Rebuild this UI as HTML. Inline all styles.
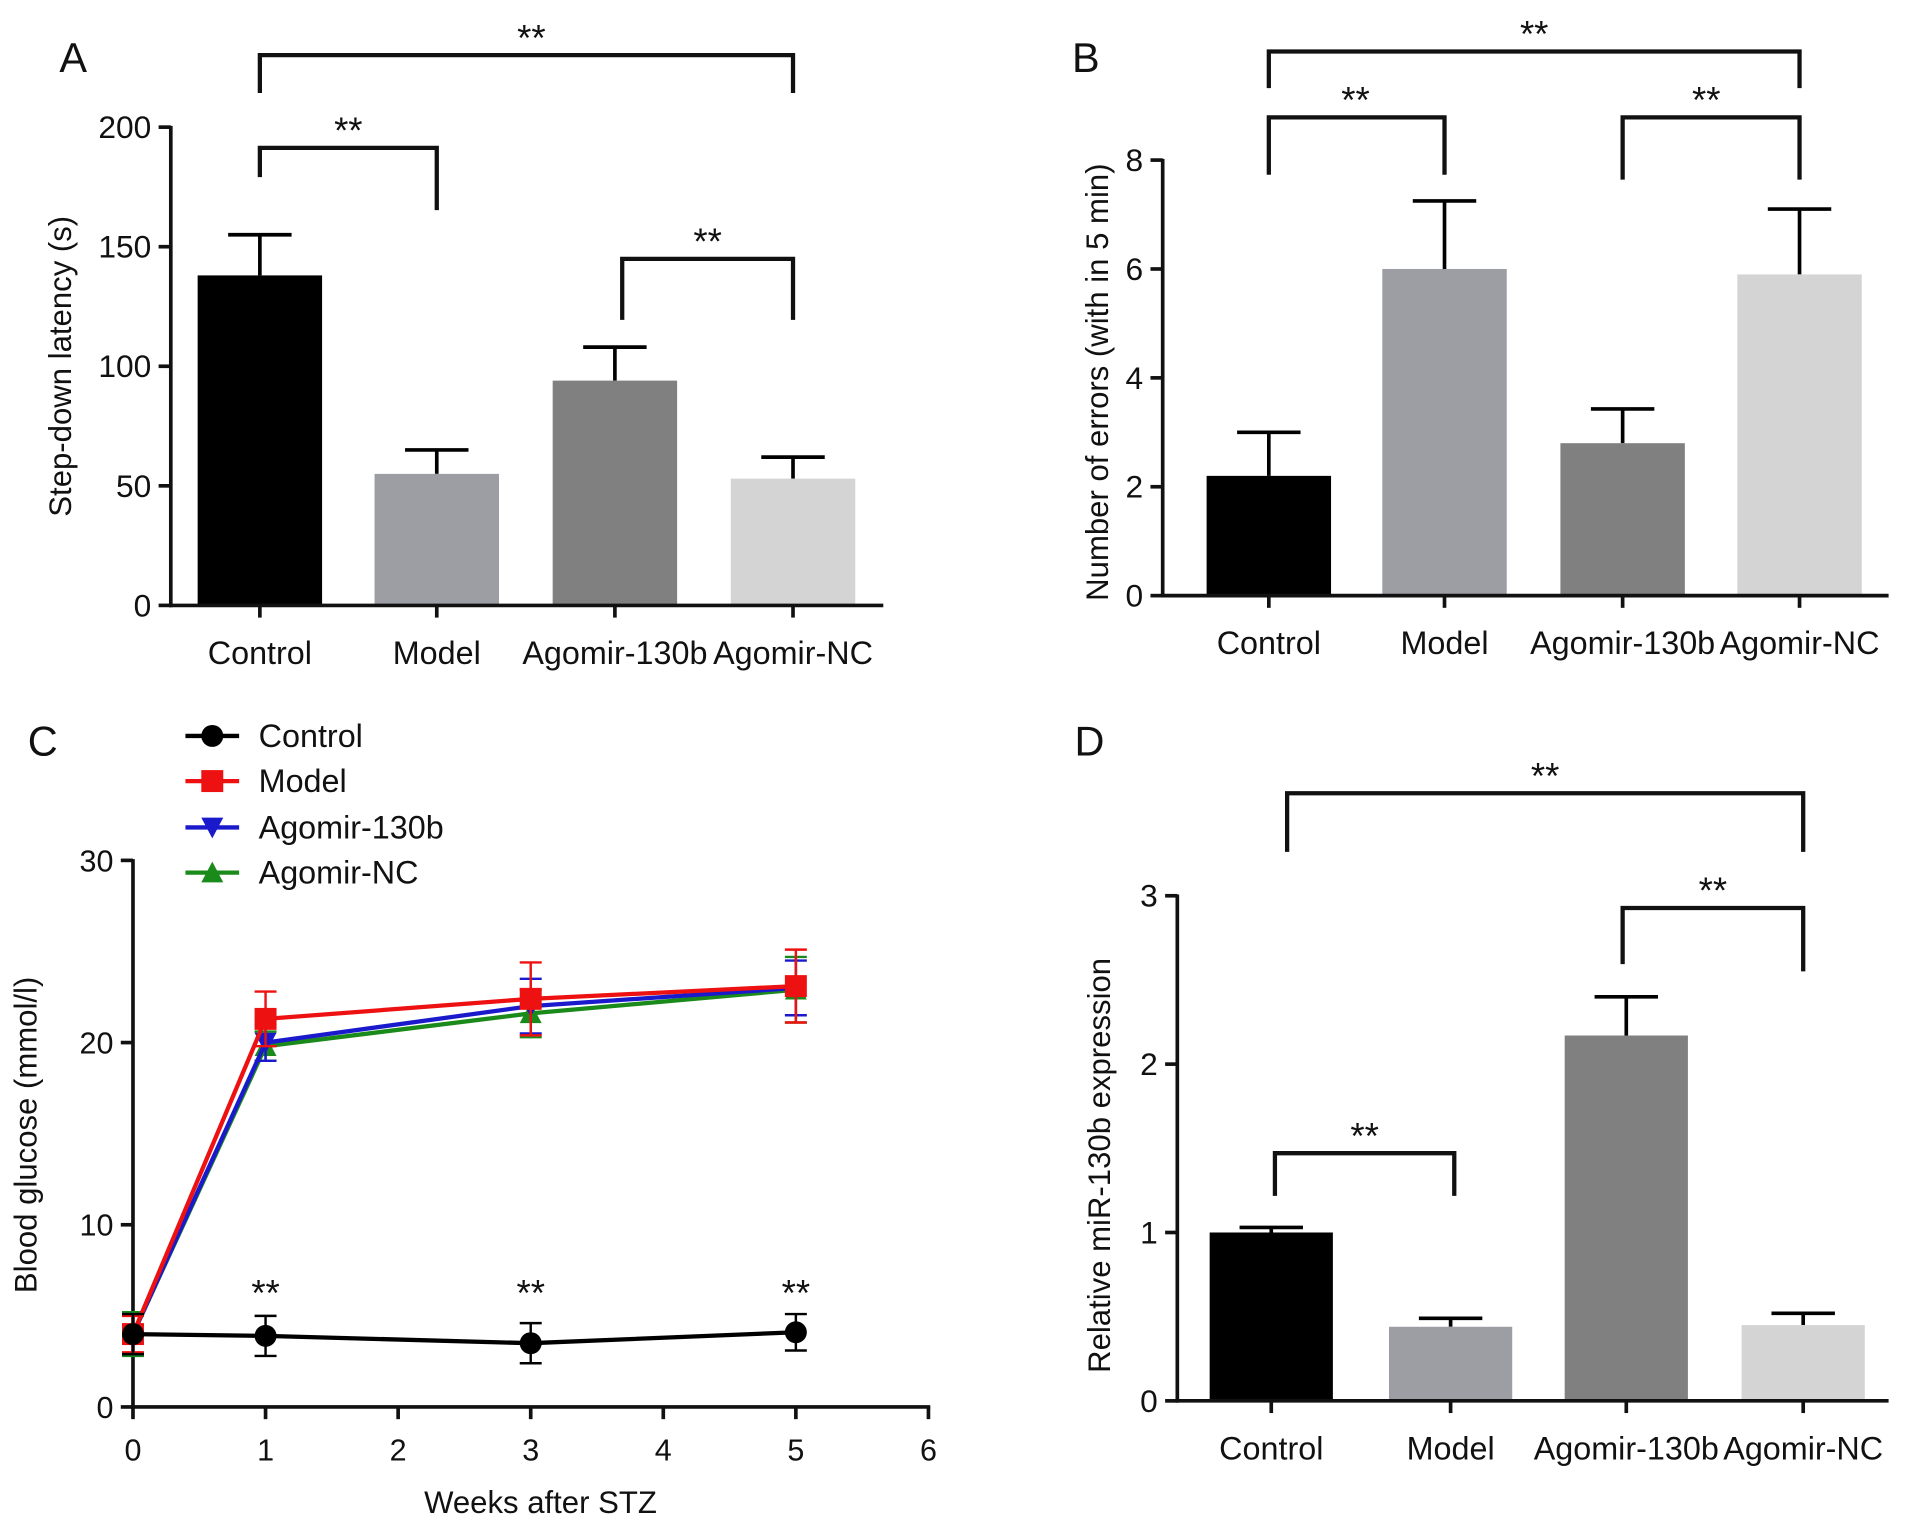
<!DOCTYPE html>
<html><head><meta charset="utf-8">
<style>
html,body{margin:0;padding:0;background:#fff;}
svg{display:block;font-family:"Liberation Sans",Arial,sans-serif;}
</style></head>
<body>
<svg id="fig" width="1913" height="1528" viewBox="0 0 1568 1252" xmlns="http://www.w3.org/2000/svg"></svg>
<script>
// ---------- data ----------
const barCats = ["Control","Model","Agomir-130b","Agomir-NC"];
const barColors = ["#000000","#9d9ea3","#808080","#d4d4d4"];
const aValues = [138, 55, 94, 53];
const aErrors = [17, 10, 14, 9];
const aTicks = [0,50,100,150,200];
const bValues = [2.2, 6.0, 2.8, 5.9];
const bErrors = [0.8, 1.25, 0.63, 1.2];
const bTicks = [0,2,4,6,8];
const dValues = [1.0, 0.44, 2.17, 0.45];
const dErrors = [0.03, 0.05, 0.23, 0.07];
const dTicks = [0,1,2,3];
const cWeeks = [0,1,3,5];
const cXTicks = [0,1,2,3,4,5,6];
const cYTicks = [0,10,20,30];
const cControl = [4.0, 3.9, 3.5, 4.1];
const cControlErr = [1.1, 1.1, 1.1, 1.0];
const cModel = [4.0, 21.3, 22.4, 23.1];
const cModelErr = [1.0, 1.5, 2.0, 2.0];
const cAgomir = [4.0, 20.0, 22.0, 23.0];
const cAgomirErr = [1.1, 1.0, 1.5, 1.5];
const cNC = [4.0, 19.8, 21.6, 22.9];
const cNCErr = [1.2, 0.8, 1.3, 1.8];

const svg = document.getElementById('fig');
const NS = "http://www.w3.org/2000/svg";
function el(tag, attrs, parent){
  const e = document.createElementNS(NS, tag);
  for (const k in attrs) e.setAttribute(k, attrs[k]);
  (parent||svg).appendChild(e);
  return e;
}
function txt(x,y,s,size,anchor,parent,rot){
  const t = el('text',{x:x,y:y,'font-size':size,'text-anchor':anchor||'middle',fill:'#111'},parent);
  if(rot) t.setAttribute('transform',`rotate(-90 ${x} ${y})`);
  t.textContent = s;
  return t;
}
const LW = 3;

function barPanel(cfg){
  const g = el('g',{});
  
  
  const y = v => cfg.y0 - (v - 0) * (cfg.y0 - cfg.yTop) / cfg.yMax;
  barCats.forEach((c,i)=>{
    const cx = cfg.xs[i];
    const top = y(cfg.values[i]);
    const e = y(cfg.values[i]+cfg.errors[i]);
    el('line',{x1:cx,x2:cx,y1:top,y2:e,stroke:'#000','stroke-width':LW},g);
    el('line',{x1:cx-cfg.capW,x2:cx+cfg.capW,y1:e,y2:e,stroke:'#000','stroke-width':LW},g);
    const r = el('rect',{x:cx-cfg.bw/2,y:top,width:cfg.bw,height:cfg.y0-top,fill:barColors[i]},g);
    
    
    const t = txt(cx,cfg.y0+48,c,26.5,'middle',g);
    
    
  });
  el('line',{x1:cfg.ax,x2:cfg.ax,y1:cfg.yTop-1,y2:cfg.y0+1.5,stroke:'#111','stroke-width':LW},g);
  el('line',{x1:cfg.ax-1.5,x2:cfg.xEnd,y1:cfg.y0,y2:cfg.y0,stroke:'#111','stroke-width':LW},g);
  cfg.xs.forEach(cx=>el('line',{x1:cx,x2:cx,y1:cfg.y0,y2:cfg.y0+10,stroke:'#111','stroke-width':LW},g));
  cfg.ticks.forEach(v=>{
    el('line',{x1:cfg.ax-10,x2:cfg.ax,y1:y(v),y2:y(v),stroke:'#111','stroke-width':LW},g);
    txt(cfg.ax-16,y(v)+9,String(v),26,'end',g);
  });
  const yl = txt(cfg.ylx,cfg.yly,cfg.ylabel,25.5,'middle',g,true);
  
  
  cfg.brackets.forEach(b=>{
    el('path',{d:`M${b[0]},${b[3]} L${b[0]},${b[2]} L${b[1]},${b[2]} L${b[1]},${b[4]}`,fill:'none',stroke:'#111','stroke-width':LW+0.5},g);
    const s = txt((b[0]+b[1])/2 + (b[5]||0), b[2]-4, '**', 30, 'middle', g);
    
    
  });
  const L = txt(cfg.letter[1],cfg.letter[2],cfg.letter[0],34,'middle',g);
  
  
}

barPanel({name:'panel-a',values:aValues,errors:aErrors,ticks:aTicks,yMax:200,y0:496,yTop:104,ax:140,xEnd:724,
  xs:[213,358,504,650],bw:102,capW:26,ylabel:'Step-down latency (s)',ylx:58,yly:300,letter:['A',60,59],
  brackets:[[213,650,45,76,76,4],[213,358,121,145,172],[510,650,212,262,262]]});
barPanel({name:'panel-b',values:bValues,errors:bErrors,ticks:bTicks,yMax:8,y0:488,yTop:131,ax:953,xEnd:1548,
  xs:[1040,1184,1330,1475],bw:102,capW:26,ylabel:'Number of errors (with in 5 min)',ylx:908,yly:313,letter:['B',890,59],
  brackets:[[1040,1475,42,72,72],[1040,1184,96,143,143,-1],[1330,1475,96,147,147,-4]]});
barPanel({name:'panel-d',values:dValues,errors:dErrors,ticks:dTicks,yMax:3,y0:1148,yTop:734,ax:965,xEnd:1548,
  xs:[1042,1189,1333,1478],bw:101,capW:26,ylabel:'Relative miR-130b expression',ylx:910,yly:955,letter:['D',893,619],
  brackets:[[1055,1478,650,698,698],[1045,1192,945,980,980],[1330,1478,744,790,796]]});

// ---------- panel C ----------
(function(){
  const g = el('g',{});
  
  
  const x0=109, x6=761, y0=1153, yT=705;
  const X = w => x0 + w*(x6-x0)/6;
  const Y = v => y0 - v*(y0-yT)/30;
  el('line',{x1:x0,x2:x0,y1:yT-1,y2:y0+1.5,stroke:'#111','stroke-width':LW},g);
  el('line',{x1:x0-1.5,x2:x6+1.5,y1:y0,y2:y0,stroke:'#111','stroke-width':LW},g);
  cXTicks.forEach(w=>{el('line',{x1:X(w),x2:X(w),y1:y0,y2:y0+10,stroke:'#111','stroke-width':LW},g);txt(X(w),y0+44,String(w),25,'middle',g);});
  cYTicks.forEach(v=>{el('line',{x1:x0-10,x2:x0,y1:Y(v),y2:Y(v),stroke:'#111','stroke-width':LW},g);txt(x0-16,Y(v)+9,String(v),25,'end',g);});
  const xt = txt(443,1240,'Weeks after STZ',25.5,'middle',g);  
  const yt = txt(30,930,'Blood glucose (mmol/l)',25.5,'middle',g,true);  
  const series = [
    {name:'Agomir-NC',vals:cNC,err:cNCErr,color:'#1a8a1a',m:'tri-up'},
    {name:'Agomir-130b',vals:cAgomir,err:cAgomirErr,color:'#1a1acc',m:'tri-down'},
    {name:'Model',vals:cModel,err:cModelErr,color:'#ee1111',m:'square'},
    {name:'Control',vals:cControl,err:cControlErr,color:'#000',m:'circle'}
  ];
  function marker(m,x,y,color,parent){
    if(m==='circle') return el('circle',{cx:x,cy:y,r:9,fill:color},parent);
    if(m==='square') return el('rect',{x:x-9,y:y-9,width:18,height:18,fill:color},parent);
    if(m==='tri-up') return el('polygon',{points:`${x-9},${y+8} ${x+9},${y+8} ${x},${y-9}`,fill:color},parent);
    return el('polygon',{points:`${x-9},${y-8} ${x+9},${y-8} ${x},${y+9}`,fill:color},parent);
  }
  series.forEach(s=>{
    const sg = el('g',{},g);
    
    
    s.vals.forEach((v,i)=>{
      const x=X(cWeeks[i]);
      el('line',{x1:x,x2:x,y1:Y(v-s.err[i]),y2:Y(v+s.err[i]),stroke:s.color,'stroke-width':2},sg);
      el('line',{x1:x-9,x2:x+9,y1:Y(v-s.err[i]),y2:Y(v-s.err[i]),stroke:s.color,'stroke-width':2},sg);
      el('line',{x1:x-9,x2:x+9,y1:Y(v+s.err[i]),y2:Y(v+s.err[i]),stroke:s.color,'stroke-width':2},sg);
    });
    el('polyline',{points:s.vals.map((v,i)=>X(cWeeks[i])+','+Y(v)).join(' '),fill:'none',stroke:s.color,'stroke-width':3.5},sg);
    s.vals.forEach((v,i)=>{
      const mk = marker(s.m,X(cWeeks[i]),Y(v),s.color,sg);
      
      
    });
  });
  [1,3,5].forEach(w=>{
    const st = txt(X(w),1070,'**',30,'middle',g);
    
    
  });
  const lg = el('g',{},g);
  
  
  const leg = [['Control','#000','circle',603],['Model','#ee1111','square',640],['Agomir-130b','#1a1acc','tri-down',678],['Agomir-NC','#1a8a1a','tri-up',715]];
  leg.forEach(l=>{
    const eg = el('g',{},lg);
    
    
    el('line',{x1:152,x2:196,y1:l[3],y2:l[3],stroke:l[1],'stroke-width':3.5},eg);
    marker(l[2],174,l[3],l[1],eg);
    txt(212,l[3]+9,l[0],26.5,'start',eg);
  });
  const L = txt(35,619,'C',34,'middle',g);
  
  
})();
</script>
</body></html>
